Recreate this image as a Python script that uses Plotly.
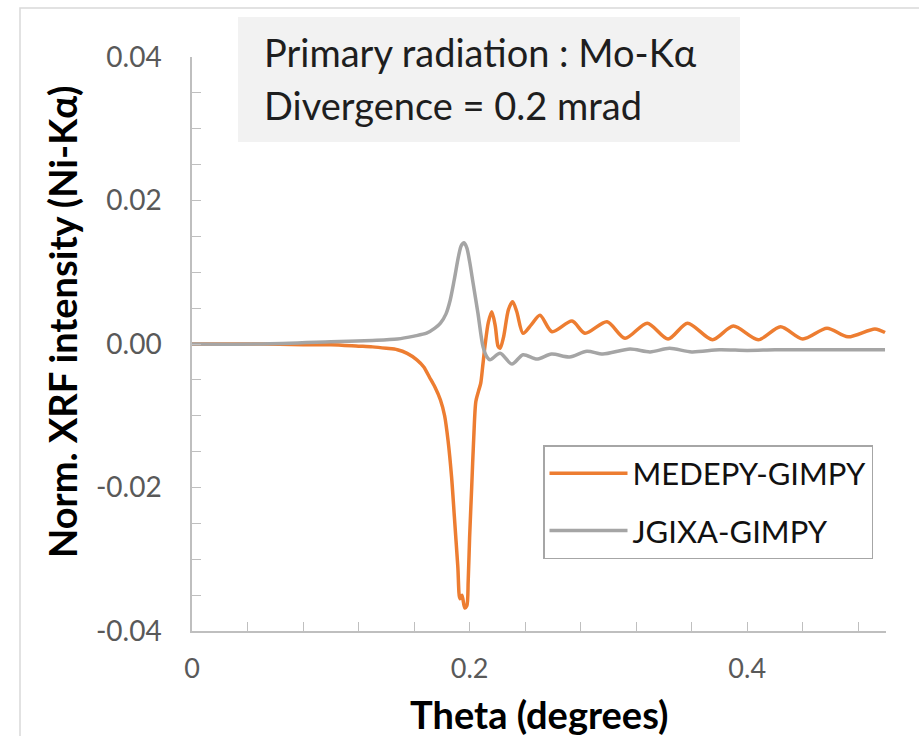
import plotly.graph_objects as go

# ---------------- data ----------------
medepy_x = [0.0, 0.05, 0.08, 0.10, 0.12, 0.13, 0.14, 0.148, 0.155, 0.162, 0.167, 0.171, 0.175,
            0.179, 0.182, 0.1845, 0.187, 0.189, 0.1915, 0.193, 0.1945, 0.1965, 0.198, 0.199,
            0.200, 0.2015, 0.203, 0.2045, 0.2065, 0.208, 0.2095, 0.211, 0.2135, 0.216, 0.2185,
            0.2205, 0.222, 0.2245, 0.228, 0.231, 0.234, 0.2385, 0.2445, 0.2507, 0.2594,
            0.2738, 0.2831, 0.299, 0.312, 0.328, 0.343, 0.357, 0.375, 0.390, 0.408, 0.424,
            0.440, 0.4575, 0.4726, 0.492, 0.4993]
medepy_y = [0.0, 0.0, -0.0001, -0.0001, -0.0003, -0.0004, -0.0006, -0.0008, -0.0013, -0.0022,
            -0.0032, -0.0046, -0.0060, -0.0078, -0.0100, -0.0135, -0.0185, -0.0240, -0.0310,
            -0.0355, -0.0350, -0.0368, -0.0365, -0.0330, -0.0270, -0.0200, -0.0130, -0.0080,
            -0.0065, -0.0055, -0.0030, -0.0004, 0.0030, 0.0045, 0.0025, -0.0003, -0.0006,
            0.0010, 0.0048, 0.0059, 0.0045, 0.0015, 0.0027, 0.0040, 0.0017, 0.0032, 0.0015,
            0.0031, 0.0008, 0.0029, 0.0007, 0.0029, 0.0006, 0.0025, 0.0006, 0.0024, 0.0007,
            0.0022, 0.0010, 0.0021, 0.0016]

jgixa_x = [0.0, 0.05, 0.10, 0.13, 0.148, 0.16, 0.169, 0.175, 0.179, 0.183, 0.186, 0.189,
           0.192, 0.194, 0.196, 0.198, 0.200, 0.2025, 0.206, 0.2097, 0.2125, 0.2147, 0.222,
           0.2305, 0.2385, 0.2485, 0.259, 0.272, 0.2845, 0.296, 0.3156, 0.33, 0.344, 0.36,
           0.38, 0.40, 0.42, 0.44, 0.46, 0.48, 0.4993]
jgixa_y = [0.0, 0.0, 0.0003, 0.0005, 0.0007, 0.0011, 0.0015, 0.0022, 0.0029, 0.0042, 0.0061,
           0.0090, 0.0122, 0.0137, 0.0141, 0.0134, 0.0115, 0.0085, 0.0043, -0.0004, -0.0018,
           -0.0022, -0.0013, -0.0028, -0.0015, -0.0021, -0.0014, -0.0018, -0.0010, -0.0014,
           -0.0007, -0.0011, -0.0006, -0.0011, -0.0008, -0.0009, -0.0008, -0.0008, -0.0008,
           -0.0008, -0.0008]

series_names = ["MEDEPY-GIMPY", "JGIXA-GIMPY"]
x_tickvals = [0, 0.2, 0.4]
x_ticktext = ["0", "0.2", "0.4"]
y_tickvals = [-0.04, -0.02, 0.0, 0.02, 0.04]
y_ticktext = ["-0.04", "-0.02", "0.00", "0.02", "0.04"]
x_title = "Theta (degrees)"
y_title = "Norm. XRF intensity (Ni-Kα)"
note_lines = ["Primary radiation : Mo-Kα", "Divergence = 0.2 mrad"]

FONT = "Lato"
ORANGE = "#ED7D31"
GRAY = "#A5A5A5"
AXIS = "#BFBFBF"

fig = go.Figure()
fig.add_trace(go.Scatter(x=medepy_x, y=medepy_y, mode="lines", name=series_names[0],
                         legendgroup="a",
                         line=dict(color=ORANGE, width=3.5, shape="spline", smoothing=0.8)))
fig.add_trace(go.Scatter(x=jgixa_x, y=jgixa_y, mode="lines", name=series_names[1],
                         legendgroup="b",
                         line=dict(color=GRAY, width=3.5, shape="spline", smoothing=0.8)))

# plot area: left 192, right 886, top 57, bottom 631 (px)
W, H = 919, 736
L, R, T, B = 192, 886, 57, 631
pw, ph = R - L, B - T


def px(xp):
    return (xp - L) / pw


def py(yp):
    return (B - yp) / ph


fig.update_layout(
    width=W, height=H,
    margin=dict(l=L, r=W - R, t=T, b=H - B, pad=0),
    paper_bgcolor="white", plot_bgcolor="white",
    font=dict(family=FONT, color="#595959"),
    showlegend=True,
    legend=dict(x=px(543), y=py(445), xanchor="left", yanchor="top",
                bordercolor="#A6A6A6", borderwidth=1.5, bgcolor="white",
                font=dict(family=FONT, size=31, color="#111111"),
                tracegroupgap=14, itemwidth=78),
    xaxis=dict(range=[0, 0.5], showgrid=False, zeroline=False,
               showline=True, linecolor=AXIS, linewidth=1.5,
               tickvals=x_tickvals, ticktext=x_ticktext,
               ticks="inside", ticklen=9, tickcolor=AXIS, tickwidth=1.2,
               minor=dict(dtick=0.04, tick0=0, ticks="inside", ticklen=9,
                          tickcolor=AXIS, tickwidth=1.2, showgrid=False),
               tickfont=dict(family=FONT, size=27, color="#595959"),
               ticklabelstandoff=13),
    yaxis=dict(range=[-0.04, 0.04], showgrid=False, zeroline=False,
               showline=True, linecolor=AXIS, linewidth=1.5,
               tickvals=y_tickvals, ticktext=y_ticktext,
               ticks="inside", ticklen=9, tickcolor=AXIS, tickwidth=1.2,
               minor=dict(dtick=0.005, tick0=0, ticks="inside", ticklen=9,
                          tickcolor=AXIS, tickwidth=1.2, showgrid=False),
               tickfont=dict(family=FONT, size=28, color="#595959"),
               ticklabelstandoff=23),
)

# outer chart border (only top/left visible in reference)
fig.add_shape(type="rect", xref="paper", yref="paper",
              x0=px(20), x1=px(935), y0=py(752), y1=py(8),
              line=dict(color="#D9D9D9", width=1.5), fillcolor="rgba(0,0,0,0)", layer="below")

# note box
fig.add_shape(type="rect", xref="paper", yref="paper",
              x0=px(238), x1=px(740), y0=py(142), y1=py(17),
              line=dict(width=0), fillcolor="#F2F2F2", layer="below")
for line_text, yc in zip(note_lines, [52, 105]):
    fig.add_annotation(text=line_text, xref="paper", yref="paper",
                       x=px(262), y=py(yc), xanchor="left", yanchor="middle",
                       showarrow=False, font=dict(family=FONT, size=38, color="#1E1E1E"))

# axis titles
fig.add_annotation(text="<b>" + y_title + "</b>", xref="paper", yref="paper",
                   x=px(62), y=py(322), xanchor="center", yanchor="middle", textangle=-90,
                   showarrow=False, font=dict(family=FONT, size=38, color="#000000"))
fig.add_annotation(text="<b>" + x_title + "</b>", xref="paper", yref="paper",
                   x=px(539), y=py(714), xanchor="center", yanchor="middle",
                   showarrow=False, font=dict(family=FONT, size=38, color="#000000"))

fig.write_html("out.html")
